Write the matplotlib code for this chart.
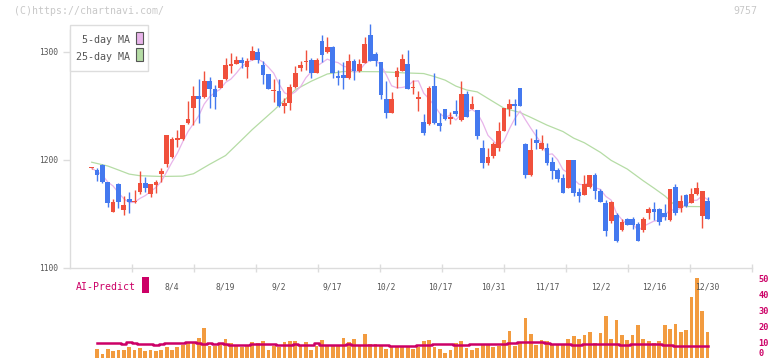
import numpy as np
import pandas as pd
import matplotlib
matplotlib.use("Agg")
import matplotlib.pyplot as plt
from matplotlib.patches import Rectangle

W, H = 772, 361
MONO = "DejaVu Sans Mono"

# date labels (every 10 sessions) and their session index
date_labels = ["8/4", "8/19", "9/2", "9/17", "10/2", "10/17", "10/31", "11/17", "12/2", "12/16", "12/30"]
date_pos = [15, 25, 35, 45, 55, 65, 75, 85, 95, 105, 115]

# daily OHLC
opens = [1192, 1190.3, 1194.9, 1178.9, 1151.4, 1177.3, 1153.2, 1163.4, 1160.4, 1170.2,
         1178.5, 1168.1, 1176.4, 1186.6, 1195.8, 1202, 1218.5, 1218.7, 1233.5, 1247.7,
         1258.8, 1257.9, 1272.7, 1265, 1266.5, 1274.5, 1286.9, 1288.2, 1292.1, 1285.9,
         1292.1, 1299.8, 1287.5, 1278.9, 1263, 1263.4, 1249.5, 1252.6, 1266.9, 1285,
         1290, 1292.1, 1280.4, 1309.7, 1299.1, 1304.4, 1277.6, 1278.2, 1275.7, 1291.2,
         1281.9, 1289.6, 1315.3, 1297.4, 1290.3, 1256, 1243.3, 1276.7, 1282.2, 1288.2,
         1266, 1255.7, 1234.4, 1232.6, 1268.1, 1233.5, 1246.5, 1237.8, 1244.9, 1237,
         1260.6, 1246.8, 1245.8, 1210.4, 1197, 1203.2, 1210.9, 1226.4, 1246.8, 1251.4,
         1266.2, 1214.6, 1185.6, 1218.1, 1210, 1210.9, 1197.4, 1190.3, 1182.9, 1173.9,
         1199.5, 1169.9, 1167.4, 1174.1, 1185.6, 1170.8, 1160, 1143.3, 1148.6, 1134.7,
         1144.9, 1144.9, 1140.3, 1134.7, 1150.7, 1154.2, 1154.3, 1150.7, 1144, 1174.3,
         1155.4, 1167.1, 1160, 1167.8, 1147.9, 1161.6]
highs = [1192.5, 1192.4, 1195.5, 1179.5, 1163.1, 1178, 1166.2, 1170.2, 1171.8, 1189.4,
         1184.1, 1177.5, 1181, 1192.1, 1223, 1221.1, 1227.3, 1232, 1254.4, 1268.1,
         1275, 1281.9, 1276.1, 1269, 1274, 1293.7, 1298.9, 1296, 1295.2, 1294,
         1305.1, 1303, 1291.2, 1279, 1274.5, 1274.5, 1256.7, 1269.9, 1286.6, 1291.2,
         1301.4, 1293.7, 1294.3, 1315.3, 1313.4, 1305, 1282.9, 1290.6, 1297.4, 1293.1,
         1293.1, 1313.4, 1325.2, 1299.5, 1290.5, 1272.7, 1262.2, 1285.9, 1297.7, 1301.4,
         1273.6, 1263.4, 1241.9, 1268.1, 1279.8, 1243.5, 1247, 1243.7, 1255.1, 1272.4,
         1263.4, 1258.8, 1246, 1218.1, 1210.4, 1216, 1235, 1248, 1256, 1255.8,
         1266.5, 1215, 1219.9, 1228.2, 1222.7, 1215, 1202.6, 1192.4, 1186.3, 1200,
         1200, 1173.3, 1185.6, 1186, 1187.8, 1172.7, 1162.5, 1162, 1150.7, 1144.9,
         1146.1, 1146.5, 1141.9, 1146.5, 1155.7, 1160.6, 1155, 1158.8, 1173, 1177.3,
         1167.1, 1168.5, 1173.6, 1179.2, 1171, 1165.2]
lows = [1191.5, 1180.4, 1178.5, 1156.3, 1151, 1155.4, 1148.6, 1150.7, 1159.4, 1168,
        1169.6, 1165.6, 1169.3, 1179.4, 1193.3, 1201.5, 1211.9, 1218, 1233, 1232,
        1234, 1257, 1247.7, 1246.5, 1266, 1274, 1279.8, 1288, 1284.4, 1275.9,
        1292, 1289.8, 1269.6, 1265, 1253.5, 1249, 1243.5, 1245.8, 1266, 1281.9,
        1282.9, 1275.7, 1280, 1290.6, 1299, 1275.9, 1269, 1265.7, 1275, 1273.6,
        1281.5, 1289, 1291, 1286.9, 1256, 1238.9, 1243, 1265.9, 1282, 1265,
        1260.4, 1244.9, 1222.7, 1232, 1233, 1226.7, 1237, 1232.9, 1240.6, 1235.6,
        1239, 1246.5, 1219, 1192.6, 1194.9, 1201, 1208.1, 1226, 1240.3, 1231.9,
        1249.5, 1183.1, 1185, 1209.3, 1208.8, 1194.9, 1181.7, 1179.4, 1169, 1173.5,
        1166.2, 1160.9, 1167, 1174, 1163.2, 1160.5, 1129.4, 1141.5, 1123.9, 1134.1,
        1139, 1135.4, 1124.5, 1133.2, 1144.9, 1143.7, 1139.4, 1144, 1143.5, 1148.6,
        1151.7, 1156, 1159.5, 1167.5, 1136.8, 1144.5]
closes = [1192, 1185.7, 1178.9, 1160, 1160.7, 1160.9, 1157.9, 1160.9, 1161.6, 1178.5,
          1173.9, 1177.3, 1179.4, 1189.4, 1222.7, 1219, 1219, 1231.7, 1237.5, 1258.8,
          1255.7, 1272.7, 1265, 1258.2, 1273.6, 1287.5, 1288.2, 1292.1, 1289.1, 1291.2,
          1300.5, 1292.1, 1278.2, 1265.3, 1263.5, 1249.5, 1252.6, 1266.9, 1280.4, 1287.5,
          1291.2, 1280.4, 1292.1, 1296.7, 1304.4, 1280.4, 1275.2, 1275.2, 1291.2, 1281.9,
          1288.2, 1306.9, 1291.2, 1291.2, 1259.7, 1243.3, 1256, 1281.9, 1292.8, 1265.3,
          1266.5, 1257.6, 1224.8, 1266.5, 1233.5, 1231.3, 1237.5, 1238.3, 1242.1, 1260.5,
          1239.6, 1251.4, 1221.8, 1197, 1202, 1214.4, 1226.4, 1247.5, 1251.4, 1249.5,
          1249.8, 1185.6, 1208.8, 1215, 1215.6, 1197.2, 1189.5, 1181.7, 1169.3, 1199.5,
          1168.7, 1166.5, 1177.6, 1185.6, 1171.1, 1160.9, 1134.1, 1160.4, 1124.8, 1141.9,
          1139.4, 1139.4, 1124.8, 1144.9, 1154.2, 1151.7, 1142.4, 1147.1, 1172.7, 1150.7,
          1161.8, 1157.4, 1167.9, 1173.6, 1170.8, 1145]

# 25-day moving average at these sessions
ma25_pos = [0, 3, 5, 7, 9, 13, 17, 19, 22, 25, 28, 30, 34, 38, 41, 44, 47, 54, 58, 62,
            64, 66, 68, 70, 72, 75, 77, 80, 82, 85, 88, 90, 92, 95, 97, 100, 103, 105,
            107, 109, 111, 115]
ma25_val = [1197.5, 1194, 1190.3, 1186.5, 1185, 1184.3, 1184.6, 1186.8, 1195.5, 1203.7,
            1218.1, 1227.8, 1245.5, 1264.5, 1272.5, 1279.2, 1281.5, 1281.3, 1280.3, 1279.6,
            1276.8, 1273.5, 1268, 1264.4, 1262.6, 1253.5, 1247.5, 1243.5, 1239, 1231.9,
            1225.9, 1219.8, 1215.5, 1206.6, 1199.2, 1191.2, 1180.3, 1173.5, 1166.4, 1157.2,
            1156.5, 1156.3]

# volume (sessions 1..115) and AI-Predict line, same scale (right axis)
volume = [6.0, 2.8, 6.0, 4.3, 5.4, 4.9, 7.0, 4.9, 6.6, 4.3, 4.9, 4.5, 4.9, 7.0, 5.4,
          7.0, 8.1, 9.6, 10.0, 12.7, 19.2, 7.9, 7.5, 9.6, 12.3, 9.6, 8.1, 7.0, 7.5, 10.2,
          9.6, 11.0, 5.4, 7.5, 7.0, 10.0, 10.6, 10.6, 7.9, 10.2, 4.9, 7.5, 11.6, 8.5, 7.9,
          7.9, 12.9, 10.0, 12.3, 7.5, 15.4, 9.1, 9.1, 7.5, 6.0, 7.0, 7.0, 7.0, 7.9, 6.0,
          7.0, 10.6, 11.6, 7.0, 6.0, 3.3, 4.9, 9.6, 10.6, 6.4, 5.4, 6.4, 9.1, 9.1, 7.0,
          7.9, 11.6, 16.9, 7.9, 9.6, 24.9, 15.4, 8.5, 11.6, 11.0, 8.5, 9.1, 8.5, 12.3, 13.7,
          12.3, 14.8, 16.3, 9.6, 16.0, 26.3, 12.3, 23.6, 14.8, 11.6, 14.8, 20.5, 12.3, 11.0, 9.6,
          11.0, 20.5, 18.4, 21.1, 16.3, 17.9, 38.3, 50.1, 29.5, 16.3]
ai_predict = [9.4, 9.4, 9.4, 9.4, 9.4, 8.8, 9.9, 9.4, 8.8, 8.8, 8.8, 8.5, 9.0, 9.4, 9.4,
              9.4, 9.4, 10.0, 10.0, 9.4, 8.8, 9.4, 9.0, 9.4, 9.0, 8.5, 8.5, 8.5, 8.5, 9.0,
              8.8, 8.8, 8.8, 8.8, 8.5, 8.5, 8.5, 9.0, 8.5, 8.5, 8.5, 9.4, 8.5, 8.5, 8.5,
              8.5, 8.5, 9.0, 8.5, 8.5, 8.5, 8.5, 8.5, 8.5, 8.5, 7.9, 7.9, 7.9, 7.9, 7.9,
              8.5, 8.0, 8.0, 9.0, 9.0, 9.0, 9.0, 8.5, 8.5, 8.5, 9.0, 9.0, 9.0, 9.0, 9.0,
              9.0, 9.0, 9.4, 9.4, 10.2, 10.2, 10.2, 10.2, 10.2, 9.4, 9.0, 9.0, 9.0, 9.0, 8.5,
              8.5, 8.8, 8.8, 8.8, 8.8, 9.0, 9.0, 9.0, 8.5, 8.5, 9.0, 9.0, 8.8, 8.8, 8.8,
              8.8, 8.0, 8.0, 7.7, 7.7, 7.7, 7.7, 7.7, 7.7, 7.7]
vol_ticks = [0, 10, 20, 30, 40, 50]
price_ticks = [1100, 1200, 1300]

RED = "#f0503c"
BLUE = "#4479ef"
ORANGE = "#f29b3f"
MAGENTA = "#cc0066"
GRID = "#dcdcdc"


def fx(x):
    return x / W


def fy(y):
    return 1 - y / H


fig = plt.figure(figsize=(W / 100, H / 100), dpi=100)

# volume panel (drawn first, transparent so the date labels stay visible)
axv = fig.add_axes([fx(70), fy(358.3), fx(752) - fx(70), fy(270) - fy(358.3)])
axv.patch.set_visible(False)

# price panel
ax = fig.add_axes([fx(70), fy(267.5), fx(752) - fx(70), fy(12) - fy(267.5)])
ax.patch.set_visible(False)
n = len(closes)
x = np.arange(n)
o = np.array(opens)
c = np.array(closes)
col = np.where(c >= o, RED, BLUE)

ma5 = pd.Series(closes).rolling(5, min_periods=1).mean()
ax.plot(ma25_pos, ma25_val, color="#b5dca5", lw=0.9, zorder=1)
ax.plot(x, ma5, color="#e8b4ea", lw=0.9, zorder=1)

ax.vlines(x, lows, highs, colors=col, lw=1.0, zorder=2)
ax.bar(x, np.maximum(np.abs(c - o), 1.2), bottom=np.minimum(o, c), width=0.88,
       color=col, lw=0, zorder=3)

ax.set_xlim(-4.05, 123.3)
ax.set_ylim(1100, 1336.6)
for s in ["top", "right"]:
    ax.spines[s].set_visible(False)
for s in ["left", "bottom"]:
    ax.spines[s].set_color(GRID)
    ax.spines[s].set_linewidth(1.0)
ax.spines["left"].set_bounds(1100, 1320)

ax.set_yticks(price_ticks)
ax.set_yticklabels([str(v) for v in price_ticks], family=MONO, fontsize=5.7, color="#555555")
ax.tick_params(axis="y", length=5, width=1, color=GRID, pad=3.5)

ax.set_xticks(date_pos)
ax.set_xticklabels(date_labels, family=MONO, fontsize=5.8, color="#555555")
ax.tick_params(axis="x", which="major", length=0, pad=11)
x0, x1 = ax.get_xlim()
ax.set_xticks(np.linspace(x0, x1, 12)[1:], minor=True)
ax.tick_params(axis="x", which="minor", length=6, width=1, color=GRID, direction="inout")

xv = x[1:]
axv.bar(xv, volume, width=0.7, color=ORANGE, lw=0, zorder=1)
axv.step(xv, ai_predict, where="mid", color=MAGENTA, lw=1.8, zorder=2)
axv.set_xlim(x0, x1)
axv.set_ylim(0, 55.05)
for s in axv.spines.values():
    s.set_visible(False)
axv.set_xticks([])
axv.yaxis.tick_right()
axv.set_yticks(vol_ticks)
axv.set_yticklabels([str(v) for v in vol_ticks], family=MONO, fontsize=6.2,
                    fontweight="bold", color=MAGENTA)
axv.tick_params(axis="y", length=0, pad=4.5)
axv.get_yticklabels()[0].set_verticalalignment("bottom")

# header texts
fig.text(fx(14), fy(14.5), "(C)https://chartnavi.com/", family=MONO, fontsize=7.1,
         color="#c8c8c8", va="baseline", ha="left")
fig.text(fx(757), fy(14.5), "9757", family=MONO, fontsize=7.1,
         color="#c8c8c8", va="baseline", ha="right")

# legend box
fig.add_artist(Rectangle((fx(70), fy(71)), fx(148) - fx(70), fy(25) - fy(71),
                         transform=fig.transFigure, fc="white", ec="#dddddd", lw=1, zorder=5))
fig.text(fx(129.5), fy(43.3), "5-day MA", family=MONO, fontsize=7.2, color="#555555",
         ha="right", va="baseline", zorder=6)
fig.text(fx(129.5), fy(60), "25-day MA", family=MONO, fontsize=7.2, color="#555555",
         ha="right", va="baseline", zorder=6)
fig.add_artist(Rectangle((fx(136), fy(44.3)), fx(142.7) - fx(136), fy(31.7) - fy(44.3),
                         transform=fig.transFigure, fc="#e8b4ea", ec="#555555", lw=0.8, zorder=6))
fig.add_artist(Rectangle((fx(136), fy(61)), fx(142.7) - fx(136), fy(48.3) - fy(61),
                         transform=fig.transFigure, fc="#b5dca5", ec="#555555", lw=0.8, zorder=6))

# AI-Predict label
fig.text(fx(76), fy(290), "AI-Predict", family=MONO, fontsize=7.1, color=MAGENTA,
         ha="left", va="baseline")
fig.add_artist(Rectangle((fx(142.3), fy(292.7)), fx(149) - fx(142.3), fy(276.7) - fy(292.7),
                         transform=fig.transFigure, fc=MAGENTA, ec="none"))

fig.savefig("out.png", dpi=100)
